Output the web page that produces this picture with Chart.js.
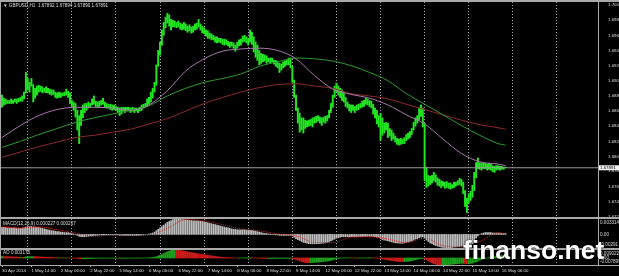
<!DOCTYPE html>
<html>
<head>
<meta charset="utf-8">
<script src="https://cdn.jsdelivr.net/npm/chart.js@4.4.1/dist/chart.umd.min.js"></script>
<style>
  html, body { margin: 0; padding: 0; background: #000; }
  #wrap { position: relative; width: 619px; height: 276px; background: #000; overflow: hidden; }
  canvas { position: absolute; left: 1px; }
  .rule { position: absolute; background: #a9a9a9; }
  #brand {
    position: absolute; left: 463px; top: 235px; line-height: 1;
    font: bold 26.5px "Liberation Sans", Arial, sans-serif; color: #fff;
    text-shadow: 0 0 2px #000;
  }
</style>
</head>
<body>
<div id="wrap">
  <canvas id="main" width="618" height="215" style="top:2px"></canvas>
  <canvas id="macd" width="618" height="29" style="top:219px"></canvas>
  <canvas id="ao" width="618" height="26" style="top:250px"></canvas>
  <div class="rule" style="left:0;top:0;width:619px;height:2px"></div>
  <div class="rule" style="left:0;top:0;width:1px;height:266px"></div>
  <div class="rule" style="left:0;top:217px;width:619px;height:2px"></div>
  <div class="rule" style="left:0;top:248px;width:619px;height:2px"></div>
  <div class="rule" style="left:0;top:265px;width:619px;height:1px"></div>
  <div id="brand">finanso.net</div>
</div>
<script>
// GBPUSD H1, 30 Apr 22:00 .. 16 May 08:00 (bar index 0..274)
const priceTicks = [1.70040, 1.69840, 1.69640, 1.69440, 1.69240, 1.69040, 1.68840, 1.68640,
  1.68440, 1.68240, 1.68040, 1.67845, 1.67645, 1.67445, 1.67245];
const timeTickIdx = [0, 16, 32, 48, 64, 80, 96, 112, 128, 144, 160, 176, 192, 208, 224, 240, 256, 272];
const timeLabels = ['30 Apr 2014', '1 May 14:00', '2 May 06:00', '2 May 22:00', '5 May 14:00',
  '6 May 06:00', '6 May 22:00', '7 May 14:00', '8 May 06:00', '8 May 22:00', '9 May 14:00',
  '12 May 06:00', '12 May 22:00', '13 May 14:00', '14 May 06:00', '14 May 22:00', '15 May 14:00',
  '16 May 06:00'];
const dayStarts = [2, 26, 50, 74, 98, 122, 146, 170, 194, 218, 242, 266, 290];

const high = [
  1.6885,1.6881,1.6880,1.6878,1.6878,1.6880,1.6878,1.6880,1.6880,1.6881,
  1.6882,1.6884,1.6889,1.6915,1.6907,1.6902,1.6907,1.6899,1.6894,1.6897,
  1.6898,1.6897,1.6896,1.6894,1.6896,1.6894,1.6893,1.6892,1.6892,1.6889,
  1.6888,1.6889,1.6888,1.6888,1.6889,1.6893,1.6890,1.6888,1.6878,1.6876,
  1.6874,1.6865,1.6858,1.6865,1.6872,1.6874,1.6874,1.6876,1.6874,1.6880,
  1.6884,1.6877,1.6876,1.6877,1.6878,1.6881,1.6876,1.6874,1.6873,1.6873,
  1.6872,1.6872,1.6870,1.6869,1.6868,1.6869,1.6869,1.6869,1.6869,1.6869,
  1.6868,1.6869,1.6868,1.6868,1.6868,1.6869,1.6872,1.6873,1.6874,1.6880,
  1.6882,1.6889,1.6894,1.6902,1.6925,1.6944,1.6955,1.6971,1.6981,1.6988,
  1.6993,1.6991,1.6985,1.6984,1.6983,1.6981,1.6983,1.6980,1.6979,1.6981,
  1.6979,1.6976,1.6978,1.6975,1.6976,1.6979,1.6980,1.6985,1.6979,1.6976,
  1.6974,1.6971,1.6970,1.6967,1.6966,1.6964,1.6962,1.6962,1.6960,1.6960,
  1.6959,1.6959,1.6958,1.6956,1.6955,1.6955,1.6954,1.6951,1.6955,1.6958,
  1.6959,1.6963,1.6964,1.6962,1.6960,1.6971,1.6968,1.6962,1.6955,1.6951,
  1.6944,1.6940,1.6939,1.6938,1.6937,1.6934,1.6934,1.6934,1.6931,1.6931,
  1.6929,1.6927,1.6926,1.6929,1.6930,1.6931,1.6934,1.6934,1.6923,1.6905,
  1.6885,1.6868,1.6861,1.6855,1.6855,1.6852,1.6851,1.6852,1.6853,1.6855,
  1.6856,1.6857,1.6858,1.6856,1.6855,1.6856,1.6857,1.6858,1.6865,1.6874,
  1.6885,1.6897,1.6901,1.6897,1.6894,1.6892,1.6888,1.6882,1.6876,1.6873,
  1.6872,1.6872,1.6870,1.6872,1.6873,1.6874,1.6877,1.6878,1.6881,1.6880,
  1.6878,1.6877,1.6873,1.6868,1.6865,1.6858,1.6861,1.6855,1.6848,1.6849,
  1.6848,1.6841,1.6839,1.6835,1.6831,1.6828,1.6827,1.6828,1.6827,1.6829,
  1.6833,1.6835,1.6837,1.6841,1.6849,1.6855,1.6858,1.6868,1.6872,1.6868,
  1.6848,1.6790,1.6779,1.6778,1.6779,1.6783,1.6780,1.6776,1.6774,1.6772,
  1.6771,1.6770,1.6771,1.6769,1.6769,1.6767,1.6770,1.6770,1.6772,1.6775,
  1.6774,1.6770,1.6759,1.6749,1.6755,1.6758,1.6766,1.6783,1.6796,1.6802,
  1.6796,1.6795,1.6796,1.6795,1.6794,1.6795,1.6794,1.6792,1.6791,1.6792,
  1.6792,1.6791,1.6791,1.6790,1.6790
];
const low = [
  1.6869,1.6872,1.6873,1.6874,1.6874,1.6874,1.6874,1.6876,1.6874,1.6876,
  1.6877,1.6877,1.6880,1.6888,1.6892,1.6889,1.6897,1.6876,1.6881,1.6885,
  1.6889,1.6890,1.6888,1.6889,1.6888,1.6888,1.6886,1.6885,1.6886,1.6882,
  1.6881,1.6882,1.6882,1.6884,1.6884,1.6885,1.6882,1.6874,1.6870,1.6865,
  1.6856,1.6839,1.6821,1.6845,1.6855,1.6862,1.6865,1.6868,1.6869,1.6872,
  1.6873,1.6870,1.6869,1.6870,1.6872,1.6873,1.6869,1.6868,1.6868,1.6866,
  1.6865,1.6866,1.6865,1.6862,1.6858,1.6860,1.6864,1.6862,1.6865,1.6864,
  1.6862,1.6864,1.6862,1.6864,1.6862,1.6864,1.6865,1.6868,1.6869,1.6870,
  1.6873,1.6876,1.6881,1.6889,1.6898,1.6923,1.6938,1.6951,1.6964,1.6974,
  1.6980,1.6976,1.6971,1.6975,1.6975,1.6974,1.6975,1.6972,1.6971,1.6972,
  1.6970,1.6968,1.6970,1.6967,1.6968,1.6971,1.6972,1.6975,1.6971,1.6967,
  1.6966,1.6963,1.6960,1.6960,1.6958,1.6958,1.6955,1.6954,1.6955,1.6954,
  1.6952,1.6951,1.6952,1.6950,1.6948,1.6950,1.6947,1.6943,1.6947,1.6950,
  1.6951,1.6955,1.6956,1.6954,1.6951,1.6955,1.6952,1.6942,1.6935,1.6931,
  1.6925,1.6927,1.6929,1.6930,1.6927,1.6929,1.6927,1.6929,1.6926,1.6923,
  1.6921,1.6915,1.6918,1.6921,1.6923,1.6925,1.6925,1.6921,1.6902,1.6882,
  1.6865,1.6848,1.6836,1.6839,1.6835,1.6841,1.6843,1.6844,1.6845,1.6843,
  1.6848,1.6849,1.6851,1.6848,1.6845,1.6849,1.6848,1.6851,1.6855,1.6862,
  1.6869,1.6882,1.6889,1.6885,1.6882,1.6878,1.6876,1.6870,1.6868,1.6864,
  1.6862,1.6865,1.6862,1.6865,1.6866,1.6868,1.6869,1.6870,1.6873,1.6872,
  1.6870,1.6868,1.6860,1.6855,1.6847,1.6843,1.6825,1.6832,1.6835,1.6839,
  1.6829,1.6831,1.6825,1.6827,1.6823,1.6820,1.6819,1.6820,1.6821,1.6821,
  1.6825,1.6827,1.6829,1.6833,1.6839,1.6844,1.6848,1.6852,1.6857,1.6843,
  1.6772,1.6763,1.6765,1.6767,1.6769,1.6772,1.6770,1.6766,1.6765,1.6763,
  1.6765,1.6762,1.6763,1.6762,1.6761,1.6762,1.6763,1.6765,1.6766,1.6767,
  1.6765,1.6755,1.6738,1.6730,1.6742,1.6746,1.6750,1.6759,1.6776,1.6788,
  1.6787,1.6786,1.6788,1.6788,1.6786,1.6787,1.6786,1.6784,1.6783,1.6786,
  1.6787,1.6786,1.6787,1.6787,1.6789
];

// moving averages, read every 10 bars
const maIdx = [0,10,20,30,40,50,60,70,80,90,100,110,120,130,140,150,160,170,180,190,200,210,220,230,240,250,260,270,274];
const maFast = [1.6829,1.6845,1.6858,1.6866,1.6869,1.6869,1.6868,1.6865,1.6872,1.6891,1.6917,1.6933,1.6943,1.6946,1.6947,
  1.6944,1.6933,1.6911,1.6893,1.6886,1.6881,1.6872,1.6859,1.6847,1.6827,1.6808,1.6797,1.6794,1.6792];
const maMid = [1.6816,1.6824,1.6833,1.6841,1.6849,1.6855,1.6860,1.6865,1.6871,1.6884,1.6894,1.6902,1.6907,1.6913,1.6923,
  1.6929,1.6934,1.6933,1.6930,1.6924,1.6915,1.6904,1.6887,1.6873,1.6859,1.6845,1.6832,1.6821,1.6819];
const maSlow = [1.6803,1.6810,1.6817,1.6823,1.6829,1.6832,1.6836,1.6840,1.6847,1.6854,1.6864,1.6874,1.6882,1.6889,1.6895,
  1.6899,1.6900,1.6897,1.6894,1.6887,1.6884,1.6880,1.6873,1.6866,1.6859,1.6852,1.6846,1.6842,1.6840];
const bid = 1.67891;

const macd = [
  0.0015,0.0015,0.0015,0.0014,0.0014,0.0014,0.0014,0.0014,0.0013,0.0013,0.0013,0.0013,0.0014,
  0.0016,0.0017,0.0017,0.0017,0.0016,0.0016,0.0015,0.0015,
  0.0014,0.0013,0.0012,0.0011,0.0010,0.0009,0.0008,0.0008,0.0007,0.0006,
  0.0006,0.0005,0.0005,0.0004,0.0004,0.0004,0.0003,0.0002,0.0001,0.0000,
  -0.0002,-0.0004,-0.0005,-0.0005,-0.0005,-0.0004,-0.0004,-0.0003,-0.0003,-0.0002,
  -0.0002,-0.0002,-0.0001,-0.0001,-0.0001,-0.0001,-0.0001,-0.0001,-0.0001,-0.0001,
  -0.0001,-0.0001,-0.0001,-0.0002,-0.0002,-0.0002,-0.0002,-0.0002,-0.0002,-0.0002,
  -0.0002,-0.0002,-0.0002,-0.0002,-0.0002,-0.0001,-0.0001,0.0000,0.0000,0.0001,
  0.0002,0.0003,0.0005,0.0008,0.0011,0.0014,0.0017,0.0020,0.0023,0.0026,
  0.0028,0.0030,0.0032,0.0033,0.0033,0.0033,0.0033,0.0032,0.0032,0.0031,
  0.0031,0.0030,0.0030,0.0029,0.0029,0.0029,0.0029,0.0028,0.0028,0.0027,
  0.0026,0.0025,0.0024,0.0023,0.0022,0.0021,0.0020,0.0019,0.0018,0.0017,
  0.0016,0.0015,0.0014,0.0013,0.0012,0.0011,0.0011,0.0010,0.0010,0.0010,
  0.0010,0.0010,0.0009,0.0009,0.0009,0.0009,0.0008,0.0007,0.0006,0.0005,
  0.0004,0.0003,0.0002,0.0002,0.0001,0.0001,0.0000,0.0000,-0.0001,-0.0001,
  -0.0002,-0.0002,-0.0002,-0.0002,-0.0002,-0.0002,-0.0002,-0.0003,-0.0006,-0.0009,
  -0.0011,-0.0013,-0.0015,-0.0017,-0.0018,-0.0019,-0.0020,-0.0020,-0.0020,-0.0020,
  -0.0020,-0.0020,-0.0020,-0.0019,-0.0019,-0.0018,-0.0017,-0.0016,-0.0014,-0.0012,
  -0.0010,-0.0008,-0.0007,-0.0006,-0.0005,-0.0005,-0.0005,-0.0005,-0.0005,-0.0005,
  -0.0005,-0.0005,-0.0005,-0.0005,-0.0005,-0.0005,-0.0004,-0.0004,-0.0004,-0.0004,
  -0.0004,-0.0004,-0.0005,-0.0006,-0.0007,-0.0009,-0.0011,-0.0012,-0.0013,-0.0014,
  -0.0015,-0.0016,-0.0017,-0.0018,-0.0018,-0.0019,-0.0019,-0.0019,-0.0018,-0.0017,
  -0.0016,-0.0015,-0.0014,-0.0012,-0.0010,-0.0009,-0.0007,-0.0006,-0.0005,-0.0008,
  -0.0012,-0.0015,-0.0018,-0.0020,-0.0022,-0.0024,-0.0025,-0.0026,-0.0027,-0.0028,
  -0.0028,-0.0029,-0.0029,-0.0029,-0.0028,-0.0027,-0.0027,-0.0026,-0.0026,-0.0025,
  -0.0025,-0.0026,-0.0027,-0.0026,-0.0024,-0.0020,-0.0014,-0.0008,-0.0003,0.0000,
  0.0002,0.0003,0.0004,0.0004,0.0004,0.0004,0.0003,0.0003,0.0003,0.0003,
  0.0003,0.0002,0.0002,0.00023
];
const signal = [0.0016,0.0014,0.0016,0.0010,0.0003,-0.0004,-0.0001,-0.0002,-0.0001,0.0013,0.0032,0.0029,0.0021,0.0012,0.0008,
  0.0001,-0.0003,-0.0017,-0.0018,-0.0006,-0.0005,-0.0010,-0.0018,-0.0008,-0.0024,-0.0027,-0.0015,0.0003,0.000267];

const ao = [
  0.0018,0.0017,0.0016,0.0015,0.0014,0.0013,0.0012,0.0011,0.0010,0.0009,0.0009,0.0008,0.0008,
  0.0012,0.0014,0.0015,0.0016,0.0016,0.0015,0.0014,0.0013,0.0012,0.0011,0.0010,0.0009,0.0008,
  0.0007,0.0006,0.0005,0.0004,0.0003,0.0003,0.0002,0.0002,0.0001,0.0001,0.0000,0.0000,-0.0001,-0.0002,-0.0003,
  -0.0005,-0.0008,-0.0009,-0.0009,-0.0009,-0.0008,-0.0007,-0.0006,-0.0005,-0.0004,-0.0003,-0.0003,-0.0002,-0.0002,-0.0002,
  -0.0002,-0.0002,-0.0002,-0.0002,-0.0002,-0.0002,-0.0002,-0.0003,-0.0003,-0.0003,-0.0003,-0.0003,-0.0003,-0.0002,-0.0002,
  -0.0002,-0.0002,-0.0002,-0.0002,-0.0002,-0.0001,-0.0001,0.0000,0.0001,0.0002,
  0.0004,0.0007,0.0010,0.0015,0.0022,0.0030,0.0040,0.0050,0.0060,0.0070,0.0078,0.0085,
  0.0088,0.0090,0.0089,0.0087,0.0085,0.0082,0.0078,0.0074,0.0070,0.0066,0.0062,0.0058,0.0054,
  0.0050,0.0047,0.0044,0.0041,0.0038,0.0034,0.0030,0.0027,0.0024,0.0021,0.0018,0.0015,0.0012,0.0010,0.0008,
  0.0006,0.0005,0.0004,0.0003,0.0002,0.0001,0.0000,-0.0001,-0.0001,0.0000,0.0001,0.0002,0.0003,0.0003,0.0003,
  0.0002,0.0001,0.0000,-0.0001,-0.0002,
  -0.0003,-0.0004,-0.0005,-0.0006,-0.0006,-0.0006,-0.0006,-0.0006,-0.0006,-0.0006,-0.0005,-0.0005,-0.0004,-0.0004,-0.0004,
  -0.0004,-0.0004,
  -0.0006,-0.0010,-0.0016,-0.0024,-0.0032,-0.0040,-0.0046,-0.0050,-0.0052,-0.0053,-0.0053,-0.0052,-0.0050,-0.0048,-0.0046,
  -0.0044,-0.0042,-0.0040,
  -0.0038,-0.0035,-0.0032,-0.0028,-0.0022,-0.0016,-0.0010,-0.0005,-0.0002,0.0000,0.0001,0.0002,0.0002,0.0002,0.0001,
  0.0000,0.0000,-0.0001,-0.0001,-0.0001,-0.0001,0.0000,0.0001,0.0002,0.0002,0.0002,0.0001,0.0000,-0.0001,-0.0003,
  -0.0006,-0.0010,-0.0014,-0.0018,-0.0022,-0.0026,-0.0029,-0.0032,-0.0035,-0.0037,-0.0038,-0.0039,-0.0040,-0.0040,-0.0039,
  -0.0037,-0.0034,-0.0030,-0.0025,-0.0020,-0.0015,-0.0010,-0.0006,-0.0004,
  -0.0010,-0.0020,-0.0032,-0.0044,-0.0055,-0.0063,-0.0070,-0.0075,-0.0078,-0.0079,-0.0079,-0.0078,-0.0076,-0.0074,-0.0072,
  -0.0070,-0.0068,-0.0066,-0.0064,-0.0062,-0.0060,
  -0.0060,-0.0062,-0.0064,-0.0064,-0.0062,-0.0057,-0.0050,-0.0042,-0.0034,-0.0026,-0.0018,-0.0011,-0.0005,0.0000,0.0005,
  0.0010,0.0014,0.0018,0.0021,0.0024,0.0027,0.0029,0.0031,0.0032
];

const mainTitle = 'GBPUSD,H1  1.67892 1.67894 1.67890 1.67891';
const macdTitle = 'MACD(12,26,9) 0.000227 0.000267';
const aoTitle = 'AO 0.003176';
const macdScale = ['0.003314', '0.00', '-0.00291'];
const aoScale = ['0.009022', '0.00', '-0.007899'];

const X_MIN = -0.55, X_MAX = 324.35;
const FONT = '"Liberation Sans", Arial, sans-serif';
const TEXT = '#dedede';
const FRAME = '#a9a9a9';
const GRID = '#a3a9b0';

const barAxis = () => ({ type: 'linear', min: X_MIN, max: X_MAX, offset: false, display: false });

const dayGrid = () => ({
  type: 'linear', min: X_MIN, max: X_MAX, offset: false, position: 'bottom',
  afterBuildTicks: s => { s.ticks = dayStarts.map(v => ({ value: v })); },
  afterFit: s => { s.height = 0; s.paddingLeft = 0; s.paddingRight = 0; },
  ticks: { display: false },
  grid: { color: GRID, lineWidth: 1, drawTicks: false },
  border: { display: false, dash: [1, 2] },
});

const rightAxis = (min, max, ticks) => ({
  position: 'right', min, max,
  afterFit: s => { s.width = 21; s.paddingTop = 0; s.paddingBottom = 0; },
  grid: { display: false },
  border: { display: true, color: FRAME, width: 1 },
  ticks,
});

const basics = {
  responsive: false,
  animation: false,
  events: [],
  devicePixelRatio: 1,
  layout: { padding: 0 },
};

function textPlugin(title, scaleText) {
  return {
    id: 'panelText',
    afterDraw(chart) {
      const ctx = chart.ctx;
      const area = chart.chartArea;
      ctx.save();
      ctx.font = '4.6px ' + FONT;
      ctx.fillStyle = TEXT;
      ctx.textBaseline = 'middle';
      ctx.textAlign = 'left';
      ctx.fillText(title.text, title.x, title.y);
      if (scaleText) {
        const y = chart.scales.y;
        const ys = [area.top + 4, y.getPixelForValue(0), area.bottom - 3];
        scaleText.forEach((t, k) => ctx.fillText(t, area.right + 2, ys[k]));
      }
      ctx.restore();
    },
  };
}

const bidPlugin = {
  id: 'bidLabel',
  afterDraw(chart) {
    const ctx = chart.ctx;
    const y = chart.scales.y.getPixelForValue(bid);
    const x = chart.chartArea.right;
    ctx.save();
    ctx.fillStyle = '#f2f2f2';
    ctx.fillRect(x + 1, y - 2.5, 20, 5);
    ctx.fillStyle = '#000';
    ctx.font = '4.4px ' + FONT;
    ctx.textBaseline = 'middle';
    ctx.fillText(bid.toFixed(5), x + 2, y);
    ctx.restore();
  },
};

const idx = high.map((_, i) => i);

new Chart(document.getElementById('main'), {
  type: 'bar',
  data: {
    datasets: [
      {
        label: 'GBPUSD',
        data: idx.map(i => ({ x: i, y: [low[i], high[i]] })),
        backgroundColor: '#22e622',
        barThickness: 1.3,
        order: 3,
      },
      {
        type: 'line', label: 'MA fast',
        data: maIdx.map((x, k) => ({ x, y: maFast[k] })),
        borderColor: '#a878ae', borderWidth: 1, pointRadius: 0,
        cubicInterpolationMode: 'monotone', order: 1,
      },
      {
        type: 'line', label: 'MA mid',
        data: maIdx.map((x, k) => ({ x, y: maMid[k] })),
        borderColor: '#2c9a2c', borderWidth: 1, pointRadius: 0,
        cubicInterpolationMode: 'monotone', order: 1,
      },
      {
        type: 'line', label: 'MA slow',
        data: maIdx.map((x, k) => ({ x, y: maSlow[k] })),
        borderColor: '#8a2a2a', borderWidth: 1, pointRadius: 0,
        cubicInterpolationMode: 'monotone', order: 1,
      },
      {
        type: 'line', label: 'Bid',
        data: [{ x: X_MIN, y: bid }, { x: X_MAX, y: bid }],
        borderColor: '#9a9a9a', borderWidth: 1, pointRadius: 0, order: 2,
      },
    ],
  },
  options: {
    ...basics,
    plugins: { legend: { display: false }, tooltip: { enabled: false } },
    scales: {
      x: barAxis(),
      xg: dayGrid(),
      y: {
        ...rightAxis(1.67241, 1.70080, {
          color: TEXT, padding: 2,
          font: { size: 4.4, family: FONT },
          callback: v => v.toFixed(5),
        }),
        afterBuildTicks: s => { s.ticks = priceTicks.map(v => ({ value: v })); },
      },
    },
  },
  plugins: [textPlugin({ text: '\u25BC ' + mainTitle, x: 2, y: 4 }), bidPlugin],
});

new Chart(document.getElementById('macd'), {
  type: 'bar',
  data: {
    datasets: [
      {
        label: 'MACD',
        data: idx.map(i => ({ x: i, y: macd[i] })),
        backgroundColor: '#bdbdbd',
        barThickness: 1,
        order: 2,
      },
      {
        type: 'line', label: 'Signal',
        data: maIdx.map((x, k) => ({ x, y: signal[k] })),
        borderColor: '#d42222', borderWidth: 1, borderDash: [1, 1], pointRadius: 0,
        cubicInterpolationMode: 'monotone', order: 1,
      },
    ],
  },
  options: {
    ...basics,
    plugins: { legend: { display: false }, tooltip: { enabled: false } },
    scales: {
      x: barAxis(),
      xg: dayGrid(),
      y: rightAxis(-0.00291, 0.003314, { display: false }),
    },
  },
  plugins: [textPlugin({ text: macdTitle, x: 2, y: 5 }, macdScale)],
});

new Chart(document.getElementById('ao'), {
  type: 'bar',
  data: {
    datasets: [{
      label: 'AO',
      data: idx.map(i => ({ x: i, y: ao[i] })),
      backgroundColor: c => (c.dataIndex > 0 && ao[c.dataIndex] < ao[c.dataIndex - 1]) ? '#cc1a1a' : '#1e9e1e',
      barThickness: 1.4,
    }],
  },
  options: {
    ...basics,
    plugins: { legend: { display: false }, tooltip: { enabled: false } },
    scales: {
      x: {
        type: 'linear', min: X_MIN, max: X_MAX, offset: false, position: 'bottom', display: true,
        afterBuildTicks: s => { s.ticks = timeTickIdx.map(v => ({ value: v })); },
        afterFit: s => { s.height = 11; s.paddingLeft = 0; s.paddingRight = 0; },
        grid: { display: true, drawOnChartArea: false, drawTicks: true, tickLength: 2, color: FRAME, offset: false },
        border: { display: false },
        ticks: {
          display: true, color: TEXT, padding: 1, align: 'start', autoSkip: false, maxRotation: 0, minRotation: 0,
          font: { size: 4.4, family: FONT },
          callback: (v, k) => timeLabels[k],
        },
      },
      xg: dayGrid(),
      y: rightAxis(-0.007899, 0.009022, { display: false }),
    },
  },
  plugins: [textPlugin({ text: aoTitle, x: 2, y: 3 }, aoScale)],
});
</script>
</body>
</html>
